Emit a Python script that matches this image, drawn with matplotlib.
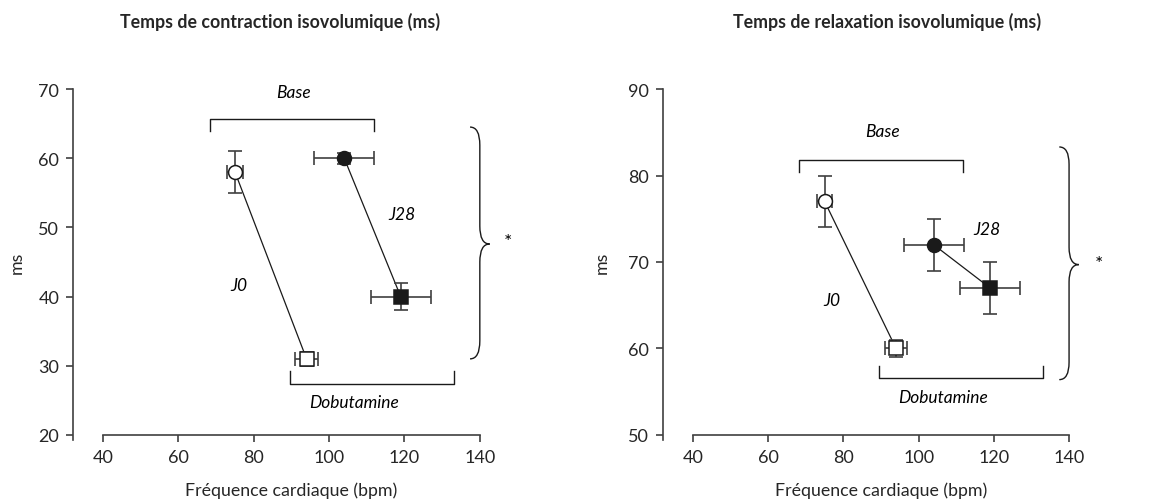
import numpy as np
import matplotlib.pyplot as plt
from matplotlib.path import Path
from matplotlib.patches import PathPatch

plt.rcParams['font.family'] = ['Lato', 'DejaVu Sans']

# Fréquence cardiaque (bpm) : [Base, Dobutamine]
fc_j0 = [75, 94]
fc_j0_err = [2, 3]
fc_j28 = [104, 119]
fc_j28_err = [8, 8]

# Temps de contraction isovolumique (ms)
tci_j0 = [58, 31]
tci_j0_err = [3, 1]
tci_j28 = [60, 40]
tci_j28_err = [0.8, 2]

# Temps de relaxation isovolumique (ms)
tri_j0 = [77, 60]
tri_j0_err = [3, 1]
tri_j28 = [72, 67]
tri_j28_err = [3, 3]

titres = ["Temps de contraction isovolumique (ms)",
          "Temps de relaxation isovolumique (ms)"]

gris = '#404040'
noir = '#1a1a1a'

fig = plt.figure(figsize=(11.59, 5.02), dpi=100)
ax1 = fig.add_axes([0.063, 0.1315, 0.351, 0.6892])
ax2 = fig.add_axes([0.572, 0.1315, 0.3504, 0.6892])


def accolade(ax, x0, w, ytop, ybot, ymid, r):
    # accolade "}" tracee a la main
    verts = [(x0, ytop), (x0 + w, ytop), (x0 + w, ytop - r),
             (x0 + w, ymid + r),
             (x0 + w, ymid), (x0 + 2 * w, ymid),
             (x0 + w, ymid), (x0 + w, ymid - r),
             (x0 + w, ybot + r),
             (x0 + w, ybot), (x0, ybot)]
    codes = [Path.MOVETO, Path.CURVE3, Path.CURVE3, Path.LINETO,
             Path.CURVE3, Path.CURVE3, Path.CURVE3, Path.CURVE3,
             Path.LINETO, Path.CURVE3, Path.CURVE3]
    ax.add_patch(PathPatch(Path(verts, codes), fill=False, lw=1.0,
                           ec=noir, clip_on=False))


def crochet(ax, x1, x2, y, yend):
    ax.plot([x1, x1, x2, x2], [yend, y, y, yend], color=noir, lw=1.0,
            clip_on=False)


def panneau(ax, y_j0, e_j0, y_j28, e_j28, ylim, ext, pos):
    # lignes J0 et J28
    ax.plot(fc_j0, y_j0, color=noir, lw=0.9, zorder=2, clip_on=False)
    ax.plot(fc_j28, y_j28, color=noir, lw=0.9, zorder=2, clip_on=False)

    # barres d'erreur
    ax.errorbar(fc_j0, y_j0, xerr=fc_j0_err, yerr=e_j0, fmt='none',
                ecolor=gris, elinewidth=1.2, capsize=5, capthick=1.2,
                zorder=3, clip_on=False)
    ax.errorbar(fc_j28, y_j28, xerr=fc_j28_err, yerr=e_j28, fmt='none',
                ecolor=gris, elinewidth=1.2, capsize=5, capthick=1.2,
                zorder=3, clip_on=False)

    # marqueurs : cercle = Base, carre = Dobutamine
    ax.plot(fc_j0[0], y_j0[0], 'o', ms=10, mfc='white', mec=noir, mew=1.1,
            zorder=4, clip_on=False)
    ax.plot(fc_j0[1], y_j0[1], 's', ms=10, mfc='white', mec=noir, mew=1.1,
            zorder=4, clip_on=False)
    ax.plot(fc_j28[0], y_j28[0], 'o', ms=10, mfc=noir, mec=noir, mew=1.1,
            zorder=4, clip_on=False)
    ax.plot(fc_j28[1], y_j28[1], 's', ms=10, mfc=noir, mec=noir, mew=1.1,
            zorder=4, clip_on=False)

    # crochets et etiquettes
    crochet(ax, 68.3, 111.8, pos['base_y'], pos['base_yend'])
    crochet(ax, 89.5, 133.2, pos['dob_y'], pos['dob_yend'])
    ax.text(90.5, pos['base_txt'], "Base", style='italic', fontsize=12.5,
            ha='center', va='center')
    ax.text(106.6, pos['dob_txt'], "Dobutamine", style='italic',
            fontsize=12.5, ha='center', va='center')
    ax.text(pos['j28'][0], pos['j28'][1], "J28", style='italic',
            fontsize=12.5, ha='center', va='center')
    ax.text(pos['j0'][0], pos['j0'][1], "J0", style='italic', fontsize=12.5,
            ha='center', va='center')

    accolade(ax, 137.4, 2.6, *pos['brace'])
    ax.text(pos['star'][0], pos['star'][1], "*", fontsize=14,
            ha='center', va='center')

    # axes
    ax.set_xlim(32, 140)
    ax.set_ylim(*ylim)
    ax.set_xticks([40, 60, 80, 100, 120, 140])
    ax.set_yticks(np.arange(ylim[0], ylim[1] + 1, 10))
    ax.spines['top'].set_visible(False)
    ax.spines['right'].set_visible(False)
    ax.spines['bottom'].set_bounds(40, 140)
    ax.spines['left'].set_bounds(ylim[0] - ext, ylim[1])
    for s in ['left', 'bottom']:
        ax.spines[s].set_color(gris)
        ax.spines[s].set_linewidth(1.2)
    ax.tick_params(direction='out', length=5, width=1.2, color=gris,
                   labelsize=13, labelcolor='#262626', pad=5)
    ax.patch.set_visible(False)

    ax.set_xlabel("Fréquence cardiaque (bpm)", fontsize=12.8, color='#262626')
    ax.xaxis.label.set_va('center')
    ax.xaxis.set_label_coords(0.537, -0.157)
    ax.set_ylabel("ms", fontsize=12.8, color='#262626')
    ax.yaxis.label.set_va('center')
    ax.yaxis.set_label_coords(pos['ylab'], 0.5)


panneau(ax1, tci_j0, tci_j0_err, tci_j28, tci_j28_err, (20, 70), 0.72,
        dict(base_y=65.7, base_yend=63.9, dob_y=27.4, dob_yend=29.3,
             base_txt=69.6, dob_txt=24.8, j28=(119.3, 52), j0=(76, 41.7),
             brace=(64.5, 31.0, 47.6, 2.6), star=(147.5, 48.0), ylab=-0.139))
panneau(ax2, tri_j0, tri_j0_err, tri_j28, tri_j28_err, (50, 90), 0.58,
        dict(base_y=81.8, base_yend=80.4, dob_y=56.6, dob_yend=58.0,
             base_txt=85.1, dob_txt=54.4, j28=(118.2, 73.8), j0=(77, 65.6),
             brace=(83.3, 56.4, 69.7, 2.0), star=(148, 69.8), ylab=-0.15))

fig.text(280 / 1159, 1 - 22 / 502, titres[0], fontsize=12.8, weight='bold',
         ha='center', va='center', color='#262626')
fig.text(887 / 1159, 1 - 22 / 502, titres[1], fontsize=12.8, weight='bold',
         ha='center', va='center', color='#262626')

fig.savefig("out.png", dpi=100)
